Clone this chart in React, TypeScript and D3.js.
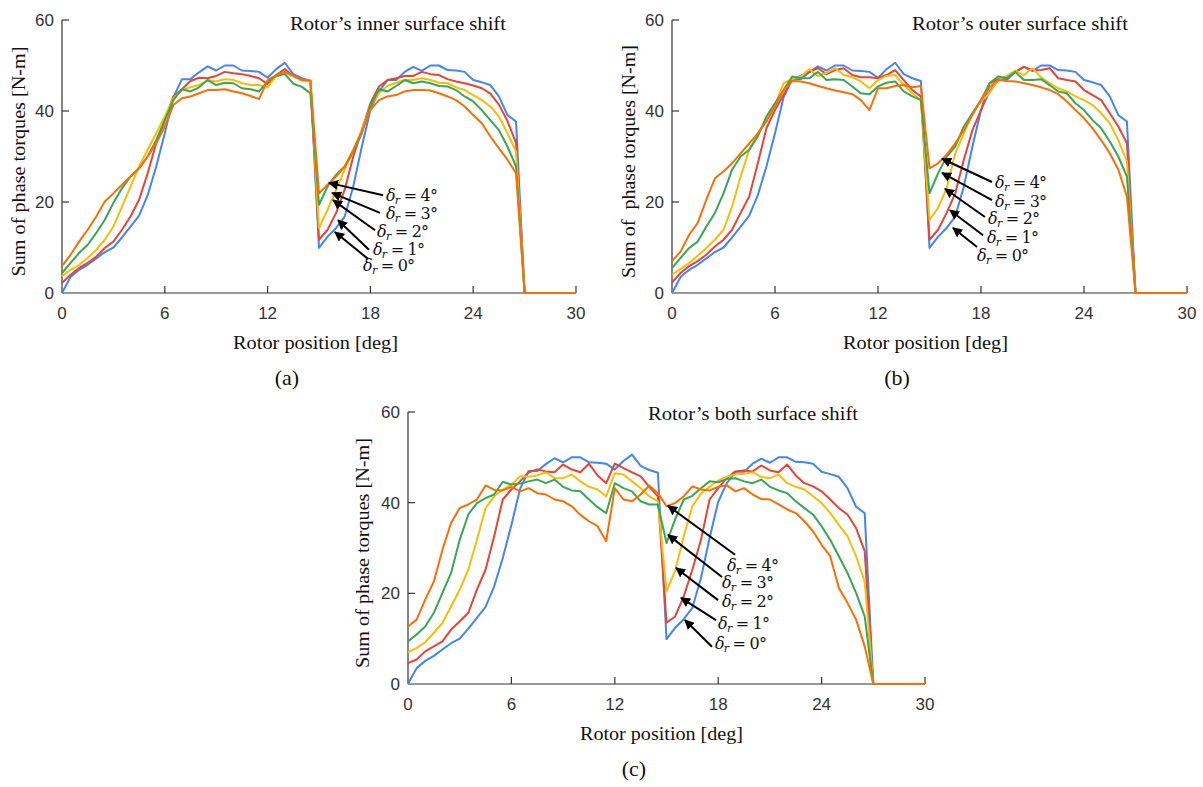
import React from "react";
import * as d3 from "d3";

// Rotor position samples [deg]
const ANGLES = [0, 0.5, 1, 1.5, 2, 2.5, 3, 3.5, 4, 4.5, 5, 5.5, 6, 6.5, 7, 7.5, 8, 8.5, 9, 9.5, 10, 10.5, 11, 11.5, 12, 12.5, 13, 13.5, 14, 14.5, 15, 15.5, 16, 16.5, 17, 17.5, 18, 18.5, 19, 19.5, 20, 20.5, 21, 21.5, 22, 22.5, 23, 23.5, 24, 24.5, 25, 25.5, 26, 26.5, 27, 27.5, 28, 28.5, 29, 29.5, 30];

const SHIFT_LABELS = ["0°", "1°", "2°", "3°", "4°"];
const X_TICKS = [0, 6, 12, 18, 24, 30];
const Y_TICKS = [0, 20, 40, 60];

// delta_r = 0 (same in all three panels)
const D0 = [0, 3.5, 5.1, 6.2, 7.6, 9.0, 10.0, 12.2, 14.6, 17.0, 21.5, 27.8, 35.1, 43.0, 47.0, 47.0, 48.5, 49.8, 48.9, 50.0, 50.0, 48.9, 48.8, 48.6, 47.3, 49.2, 50.6, 48.1, 47.2, 46.6, 9.9, 12.4, 14.3, 16.8, 23.4, 32.2, 40.2, 44.3, 46.8, 46.8, 48.6, 49.7, 48.8, 50.0, 50.0, 49.0, 48.9, 48.6, 46.8, 46.3, 45.7, 43.2, 39.1, 37.7, 0, 0, 0, 0, 0, 0, 0];

// (a) inner surface shift
const A_D1 = [2.2, 4.0, 5.5, 6.6, 8.0, 9.9, 11.3, 13.9, 16.8, 20.5, 26.3, 32.9, 38.0, 43.2, 44.8, 46.6, 47.3, 47.2, 47.7, 48.6, 48.3, 48.1, 47.7, 47.2, 45.9, 47.9, 49.2, 47.7, 46.8, 46.6, 11.7, 13.9, 17.6, 22.7, 30.0, 35.8, 41.7, 45.4, 46.8, 47.2, 47.7, 47.7, 48.6, 48.1, 47.9, 47.0, 46.5, 46.1, 45.6, 45.0, 43.8, 41.4, 37.8, 33.0, 0, 0, 0, 0, 0, 0, 0];
const A_D2 = [3.7, 5.1, 6.2, 7.7, 9.5, 11.7, 14.6, 19.0, 23.4, 27.8, 31.5, 35.1, 38.8, 42.8, 44.6, 45.2, 45.7, 46.8, 46.5, 47.0, 46.8, 46.1, 45.7, 45.7, 45.2, 47.7, 48.4, 47.6, 46.7, 46.5, 14.3, 18.3, 22.7, 27.1, 31.1, 35.8, 41.0, 43.9, 45.5, 46.2, 46.8, 46.8, 47.2, 46.8, 46.2, 46.1, 45.2, 44.6, 43.5, 42.4, 41.0, 38.8, 35.1, 31.1, 0, 0, 0, 0, 0, 0, 0];
const A_D3 = [4.4, 6.6, 8.8, 10.6, 13.2, 16.1, 19.8, 23.0, 25.6, 27.4, 30.0, 33.6, 38.0, 42.4, 44.8, 44.3, 45.2, 46.8, 45.7, 46.2, 46.1, 45.0, 44.8, 44.3, 46.5, 47.7, 48.1, 46.0, 45.3, 43.9, 19.4, 23.4, 26.0, 27.8, 31.1, 35.1, 41.0, 44.8, 44.3, 45.5, 46.8, 46.1, 46.5, 46.1, 45.5, 45.4, 44.6, 43.2, 42.1, 40.2, 38.0, 35.8, 32.2, 27.8, 0, 0, 0, 0, 0, 0, 0];
const A_D4 = [5.9, 8.4, 11.3, 13.9, 16.8, 20.1, 21.9, 23.8, 25.6, 27.4, 30.0, 32.9, 36.6, 41.3, 42.8, 43.2, 43.9, 44.6, 44.6, 44.8, 44.3, 43.9, 43.3, 42.6, 46.8, 47.9, 48.6, 47.7, 46.8, 46.7, 21.9, 23.8, 25.6, 27.8, 31.5, 35.5, 40.2, 42.4, 43.2, 43.5, 44.3, 44.6, 44.6, 44.5, 43.9, 43.2, 42.4, 41.0, 39.1, 37.3, 34.4, 31.8, 29.3, 26.3, 0, 0, 0, 0, 0, 0, 0];

// (b) outer surface shift
const B_D1 = [2.3, 4.4, 5.9, 7.0, 8.4, 10.2, 11.7, 13.9, 17.6, 21.2, 28.5, 36.2, 40.2, 43.5, 47.0, 47.7, 48.6, 49.4, 48.1, 49.0, 49.4, 47.9, 47.4, 47.4, 47.2, 47.9, 49.0, 46.8, 44.6, 43.2, 11.7, 13.9, 17.6, 21.9, 29.3, 35.8, 40.2, 46.1, 47.0, 47.4, 48.6, 49.7, 48.9, 49.0, 49.4, 47.2, 46.8, 46.5, 44.6, 43.5, 42.4, 39.5, 36.6, 32.9, 0, 0, 0, 0, 0, 0, 0];
const B_D2 = [4.0, 5.3, 6.6, 8.2, 9.9, 11.7, 13.9, 19.0, 25.6, 31.5, 35.1, 38.0, 41.3, 46.1, 47.0, 47.6, 49.2, 47.7, 48.4, 49.4, 47.9, 47.4, 46.5, 45.0, 46.8, 47.7, 47.9, 45.7, 43.9, 42.4, 16.1, 18.7, 23.0, 30.7, 35.1, 39.5, 42.1, 43.9, 46.8, 47.7, 48.9, 47.9, 49.4, 47.4, 46.1, 45.0, 44.3, 43.2, 42.4, 41.3, 39.5, 37.3, 33.6, 28.9, 0, 0, 0, 0, 0, 0, 0];
const B_D3 = [5.5, 7.7, 9.9, 11.3, 14.6, 17.6, 21.9, 27.1, 30.0, 31.5, 34.4, 38.8, 41.7, 44.6, 47.6, 47.2, 47.2, 48.6, 46.8, 47.0, 46.8, 45.4, 43.9, 43.7, 45.4, 46.2, 46.5, 44.3, 43.2, 42.4, 21.9, 26.3, 30.0, 32.2, 36.6, 39.5, 42.4, 46.1, 47.6, 47.2, 48.6, 46.8, 46.8, 47.0, 45.7, 44.3, 43.9, 41.7, 40.2, 38.0, 36.2, 33.3, 30.0, 25.6, 0, 0, 0, 0, 0, 0, 0];
const B_D4 = [7.0, 9.1, 12.8, 15.4, 20.5, 25.2, 26.7, 28.5, 30.7, 32.9, 35.1, 37.7, 41.0, 44.6, 46.6, 46.5, 46.1, 45.5, 45.0, 44.5, 44.1, 43.7, 42.4, 40.2, 45.0, 45.0, 45.5, 45.7, 45.2, 45.5, 27.4, 28.5, 30.4, 32.9, 35.8, 39.1, 42.4, 45.2, 46.8, 46.6, 46.5, 46.1, 45.7, 45.2, 44.6, 43.7, 42.1, 40.2, 38.4, 36.2, 33.6, 30.7, 27.1, 21.2, 0, 0, 0, 0, 0, 0, 0];

// (c) both surface shift
const C_D1 = [4.6, 5.4, 7.2, 8.3, 9.4, 12.0, 13.8, 15.7, 20.8, 25.2, 32.6, 40.7, 42.9, 44.7, 46.7, 47.3, 46.9, 46.7, 48.4, 47.3, 46.7, 48.6, 46.0, 44.3, 48.6, 47.6, 46.7, 45.8, 43.5, 41.4, 13.5, 14.9, 19.3, 25.2, 31.8, 40.7, 43.2, 45.4, 46.9, 47.1, 46.9, 48.2, 47.1, 46.7, 48.4, 46.0, 44.3, 43.6, 42.5, 40.7, 38.8, 37.4, 34.4, 29.3, 0, 0, 0, 0, 0, 0, 0];
const C_D2 = [7.0, 7.9, 9.2, 11.3, 13.5, 17.1, 20.8, 25.2, 31.8, 38.8, 41.4, 42.9, 44.0, 45.8, 45.7, 46.0, 46.7, 45.4, 45.4, 46.2, 44.7, 43.5, 42.9, 41.4, 46.5, 46.2, 44.7, 43.2, 41.4, 40.3, 20.4, 25.0, 32.6, 39.2, 42.0, 43.5, 44.9, 45.7, 46.2, 46.4, 46.7, 45.7, 45.4, 46.2, 44.3, 43.5, 42.9, 41.4, 39.9, 37.7, 35.1, 32.6, 28.2, 22.6, 0, 0, 0, 0, 0, 0, 0];
const C_D3 = [9.4, 10.9, 12.7, 15.7, 20.1, 24.5, 31.8, 37.4, 39.9, 41.0, 41.8, 44.6, 44.0, 44.2, 44.7, 45.1, 44.3, 45.1, 43.5, 42.7, 42.5, 40.7, 39.0, 37.7, 44.3, 43.2, 42.5, 40.3, 39.6, 39.6, 31.1, 36.3, 40.7, 41.5, 43.2, 44.7, 44.5, 45.2, 45.4, 44.7, 44.3, 45.1, 43.5, 42.7, 42.1, 40.3, 38.8, 37.4, 34.8, 31.8, 28.2, 24.5, 20.1, 14.9, 0, 0, 0, 0, 0, 0, 0];
const C_D4 = [12.7, 14.2, 18.6, 22.6, 29.6, 35.5, 38.8, 39.6, 40.7, 43.8, 42.8, 42.7, 43.5, 42.5, 43.2, 42.1, 41.8, 40.7, 40.3, 39.2, 37.3, 35.9, 34.8, 31.5, 43.2, 40.7, 40.3, 41.8, 43.8, 42.1, 39.2, 39.9, 41.4, 43.6, 42.9, 42.7, 43.5, 43.8, 42.5, 43.2, 41.8, 40.8, 40.7, 39.6, 38.5, 37.7, 35.9, 33.7, 30.7, 28.2, 21.2, 17.9, 14.2, 8.3, 0, 0, 0, 0, 0, 0, 0];

const COLORS = ["#4285F4", "#EA4335", "#FBBC04", "#34A853", "#FF6D01"];

// Annotation anchors in data coordinates: [deg, N-m] for tip, tail, label (delta 0..4)
const A_ANN = {
  tips: [[15.93, 13.4], [16.11, 16.0], [15.82, 20.4], [15.76, 22.0], [15.58, 24.2]],
  tails: [[17.86, 7.5], [17.92, 9.5], [18.27, 13.8], [18.56, 17.6], [18.74, 21.5]],
  labels: [[17.57, 4.8], [18.15, 8.4], [18.39, 12.3], [18.91, 16.3], [18.91, 20.2]],
};
const B_ANN = {
  tips: [[16.37, 14.3], [16.19, 18.2], [15.9, 22.9], [15.73, 26.4], [15.73, 29.5]],
  tails: [[17.77, 10.1], [18.12, 12.7], [18.23, 16.7], [18.64, 20.4], [18.64, 24.4]],
  labels: [[17.77, 7.0], [18.35, 11.0], [18.41, 15.2], [18.82, 18.9], [18.82, 23.1]],
};
const C_ANN = {
  tips: [[16.07, 14.1], [15.84, 19.0], [15.55, 25.6], [15.09, 32.9], [15.09, 39.3]],
  tails: [[17.64, 8.2], [17.87, 14.1], [17.99, 18.5], [18.22, 23.6], [18.98, 28.5]],
  labels: [[17.81, 7.7], [17.99, 12.1], [18.22, 17.0], [18.22, 21.2], [18.51, 24.9]],
};

const SANS = "'Liberation Sans', Arial, sans-serif";
const SERIF = "'Liberation Serif', 'Times New Roman', serif";
const MATH = "'DejaVu Serif', 'Liberation Serif', serif";

type PanelCfg = {
  x0: number; x1: number; yTop: number; yBot: number;
  title: string; titleX: number; titleY: number; titleLen: number;
  yLabel: string; yLabelX: number; yLabelLen: number;
  xTitleX: number; xTitleLen: number; tag: string; tagX: number;
  series: number[][]; ann: { tips: number[][]; tails: number[][]; labels: number[][] };
};

function Panel({ cfg, id }: { cfg: PanelCfg; id: string }) {
  const x = d3.scaleLinear().domain([0, 30]).range([cfg.x0, cfg.x1]);
  const y = d3.scaleLinear().domain([0, 60]).range([cfg.yBot, cfg.yTop]);
  const line = d3
    .line<number>()
    .x((_, i) => x(ANGLES[i]))
    .y((v) => y(v));
  const axisColor = "#333";
  const yMid = (cfg.yTop + cfg.yBot) / 2 + 5;
  return (
    <g>
      <defs>
        <marker id={`ah-${id}`} viewBox="0 0 10 10" refX="9" refY="5" markerWidth="5" markerHeight="5" orient="auto" markerUnits="strokeWidth">
          <path d="M0,0 L10,5 L0,10 z" fill="#000" />
        </marker>
      </defs>
      {/* axes */}
      <line x1={cfg.x0} x2={cfg.x0} y1={cfg.yTop} y2={cfg.yBot} stroke={axisColor} strokeWidth={1.2} />
      <line x1={cfg.x0} x2={cfg.x1} y1={cfg.yBot} y2={cfg.yBot} stroke={axisColor} strokeWidth={1.2} />
      {Y_TICKS.map((t) => (
        <g key={`yt${t}`}>
          {t > 0 && <line x1={cfg.x0} x2={cfg.x0 + 7} y1={y(t)} y2={y(t)} stroke={axisColor} strokeWidth={1.2} />}
          <text x={cfg.x0 - 8} y={y(t)} dy="0.36em" textAnchor="end" fontFamily={SANS} fontSize={17} fill="#333">
            {t}
          </text>
        </g>
      ))}
      {X_TICKS.map((t) => (
        <g key={`xt${t}`}>
          {t > 0 && <line x1={x(t)} x2={x(t)} y1={cfg.yBot} y2={cfg.yBot - 7} stroke={axisColor} strokeWidth={1.2} />}
          <text x={x(t)} y={cfg.yBot + 26} textAnchor="middle" fontFamily={SANS} fontSize={17} fill="#333">
            {t}
          </text>
        </g>
      ))}
      {/* series */}
      {cfg.series.map((s, i) => (
        <path key={`s${i}`} d={line(s) || ""} fill="none" stroke={COLORS[i]} strokeWidth={2} strokeLinejoin="round" />
      ))}
      {/* annotations */}
      {SHIFT_LABELS.map((lab, i) => {
        const tip = cfg.ann.tips[i];
        const tail = cfg.ann.tails[i];
        const lp = cfg.ann.labels[i];
        return (
          <g key={`ann${i}`}>
            <line
              x1={x(tail[0])} y1={y(tail[1])} x2={x(tip[0])} y2={y(tip[1])}
              stroke="#000" strokeWidth={2} markerEnd={`url(#ah-${id})`}
            />
            <text x={x(lp[0])} y={y(lp[1])} fontFamily={MATH} fontSize={16} fill="#111" textLength={52} lengthAdjust="spacing">
              <tspan fontStyle="italic">δ</tspan>
              <tspan fontStyle="italic" fontSize={11} dy={3}>r</tspan>
              <tspan dy={-3}>{` = ${lab}`}</tspan>
            </text>
          </g>
        );
      })}
      {/* texts */}
      <text x={cfg.titleX} y={cfg.titleY} fontFamily={SERIF} fontSize={19} fill="#111" textLength={cfg.titleLen} lengthAdjust="spacingAndGlyphs">
        {cfg.title}
      </text>
      <text
        transform={`translate(${cfg.yLabelX},${yMid}) rotate(-90)`}
        textAnchor="middle" fontFamily={SERIF} fontSize={19} fill="#111"
        textLength={cfg.yLabelLen} lengthAdjust="spacingAndGlyphs" style={{ whiteSpace: "pre" }}
      >
        {cfg.yLabel}
      </text>
      <text x={cfg.xTitleX} y={cfg.yBot + 56} fontFamily={SERIF} fontSize={19} fill="#111" textLength={cfg.xTitleLen} lengthAdjust="spacingAndGlyphs">
        Rotor position [deg]
      </text>
      <text x={cfg.tagX} y={cfg.yBot + 92} textAnchor="middle" fontFamily={SERIF} fontSize={22} fill="#111">
        {cfg.tag}
      </text>
    </g>
  );
}

export default function App() {
  const panels: PanelCfg[] = [
    {
      x0: 62, x1: 576, yTop: 20, yBot: 293,
      title: "Rotor’s inner surface shift", titleX: 290, titleY: 30, titleLen: 216,
      yLabel: "Sum of phase torques [N-m]", yLabelX: 25, yLabelLen: 230,
      xTitleX: 233, xTitleLen: 165, tag: "(a)", tagX: 287,
      series: [D0, A_D1, A_D2, A_D3, A_D4], ann: A_ANN,
    },
    {
      x0: 672, x1: 1187, yTop: 20, yBot: 293,
      title: "Rotor’s outer surface shift", titleX: 912, titleY: 30, titleLen: 216,
      yLabel: "Sum of  phase torques [N-m]", yLabelX: 635, yLabelLen: 233,
      xTitleX: 843, xTitleLen: 165, tag: "(b)", tagX: 897,
      series: [D0, B_D1, B_D2, B_D3, B_D4], ann: B_ANN,
    },
    {
      x0: 408, x1: 925, yTop: 412, yBot: 684,
      title: "Rotor’s both surface shift", titleX: 648, titleY: 420, titleLen: 210,
      yLabel: "Sum of phase torques [N-m]", yLabelX: 369, yLabelLen: 230,
      xTitleX: 580, xTitleLen: 163, tag: "(c)", tagX: 634,
      series: [D0, C_D1, C_D2, C_D3, C_D4], ann: C_ANN,
    },
  ];
  return (
    <svg
      width={1203}
      height={787}
      style={{ position: "absolute", left: 0, top: 0, background: "#fff" }}
    >
      <rect width={1203} height={787} fill="#fff" />
      {panels.map((p, i) => (
        <Panel key={i} cfg={p} id={`p${i}`} />
      ))}
    </svg>
  );
}
